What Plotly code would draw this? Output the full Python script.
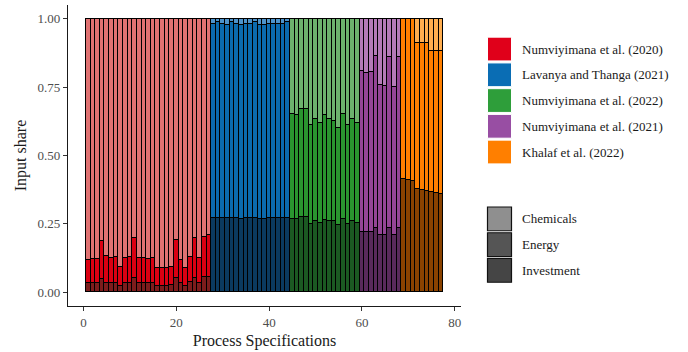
import plotly.graph_objects as go

# ---- data ----
studies = ["Numviyimana et al. (2020)", "Lavanya and Thanga (2021)",
           "Numviyimana et al. (2022)", "Numviyimana et al. (2021)",
           "Khalaf et al. (2022)"]
inputs = ["Chemicals", "Energy", "Investment"]

investment_2020 = [0.033, 0.033, 0.033, 0.048, 0.034, 0.034, 0.034, 0.024, 0.034, 0.034,
                   0.054, 0.034, 0.034, 0.033, 0.033, 0.024, 0.024, 0.024, 0.025, 0.052,
                   0.033, 0.024, 0.036, 0.054, 0.035, 0.056, 0.057]
energy_2020 = [0.085, 0.087, 0.089, 0.139, 0.099, 0.091, 0.096, 0.070, 0.090, 0.094,
               0.144, 0.093, 0.090, 0.087, 0.091, 0.064, 0.066, 0.066, 0.068, 0.138,
               0.084, 0.066, 0.093, 0.143, 0.092, 0.147, 0.153]
chemicals_2020 = [0.882, 0.880, 0.878, 0.813, 0.867, 0.875, 0.870, 0.906, 0.876, 0.872,
                  0.802, 0.873, 0.876, 0.880, 0.876, 0.912, 0.910, 0.910, 0.907, 0.810,
                  0.883, 0.910, 0.871, 0.803, 0.873, 0.797, 0.790]

investment_lav = [0.270, 0.271, 0.271, 0.270, 0.271, 0.270, 0.269, 0.270, 0.270, 0.271,
                  0.269, 0.269, 0.270, 0.270, 0.270, 0.270, 0.271]
energy_lav = [0.712, 0.718, 0.711, 0.706, 0.718, 0.712, 0.707, 0.712, 0.712, 0.718,
              0.707, 0.707, 0.712, 0.712, 0.712, 0.712, 0.718]
chemicals_lav = [0.018, 0.011, 0.018, 0.024, 0.011, 0.018, 0.024, 0.018, 0.018, 0.011,
                 0.024, 0.024, 0.018, 0.018, 0.018, 0.018, 0.011]

investment_2022 = [0.269, 0.268, 0.274, 0.275, 0.251, 0.260, 0.254, 0.266, 0.262, 0.260,
                   0.245, 0.269, 0.251, 0.260, 0.254]
energy_2022 = [0.384, 0.379, 0.396, 0.395, 0.361, 0.372, 0.364, 0.382, 0.371, 0.367,
               0.354, 0.384, 0.361, 0.372, 0.364]
chemicals_2022 = [0.347, 0.353, 0.330, 0.330, 0.388, 0.368, 0.382, 0.352, 0.367, 0.373,
                  0.401, 0.347, 0.388, 0.368, 0.382]

investment_2021 = [0.220, 0.220, 0.221, 0.236, 0.208, 0.208, 0.236, 0.208, 0.236]
energy_2021 = [0.587, 0.583, 0.585, 0.627, 0.549, 0.545, 0.625, 0.542, 0.624]
chemicals_2021 = [0.193, 0.197, 0.194, 0.137, 0.243, 0.247, 0.139, 0.250, 0.140]

investment_kh = [0.414, 0.410, 0.408, 0.378, 0.374, 0.371, 0.366, 0.362, 0.360]
energy_kh = [0.586, 0.590, 0.592, 0.534, 0.538, 0.541, 0.516, 0.520, 0.522]
chemicals_kh = [0.000, 0.000, 0.000, 0.088, 0.088, 0.088, 0.118, 0.118, 0.118]

# ---- styles ----
study_colors = ["#E0001A", "#0A6DB4", "#2E9E3A", "#984EA3", "#FF7F00"]
seg_colors = {
    "Chemicals": ["#E07272", "#4D93CB", "#6DB36D", "#B57AB8", "#FFAE50"],
    "Energy": ["#DA0012", "#0B6AAE", "#2A952F", "#944596", "#FF7F00"],
    "Investment": ["#7D1C1C", "#0B3A5F", "#1B5A22", "#5A2A5C", "#8A4200"],
}
key_colors = {"Chemicals": "#8F8F8F", "Energy": "#555555", "Investment": "#454545"}

groups = [
    (investment_2020, energy_2020, chemicals_2020),
    (investment_lav, energy_lav, chemicals_lav),
    (investment_2022, energy_2022, chemicals_2022),
    (investment_2021, energy_2021, chemicals_2021),
    (investment_kh, energy_kh, chemicals_kh),
]

xs, inv, en, ch, gi = [], [], [], [], []
n = 1
for g, (a, b, c) in enumerate(groups):
    for i in range(len(a)):
        xs.append(n)
        inv.append(a[i]); en.append(b[i]); ch.append(c[i]); gi.append(g)
        n += 1

FONT = "Liberation Serif, Times New Roman, serif"
fig = go.Figure()
for name, vals in [("Investment", inv), ("Energy", en), ("Chemicals", ch)]:
    fig.add_trace(go.Bar(
        x=xs, y=vals, name=name, showlegend=False,
        width=1.0,
        marker=dict(color=[seg_colors[name][g] for g in gi],
                    line=dict(color="#000000", width=1.3)),
    ))

W, H = 688, 352
L, R, T, B = 68, 461, 5, 309


def px(xp):
    return (xp - L) / (R - L)


def py(yp):
    return (B - yp) / (B - T)


shapes = []
annots = []
# study legend
for i, s in enumerate(studies):
    top = 37.5 + 26 * i
    shapes.append(dict(type="rect", xref="paper", yref="paper",
                       x0=px(487.5), x1=px(511.5), y0=py(top + 24), y1=py(top),
                       fillcolor=study_colors[i], line=dict(color="#FFFFFF", width=1)))
    annots.append(dict(xref="paper", yref="paper", x=px(520), y=py(top + 12),
                       text=s, showarrow=False, xanchor="left", yanchor="middle",
                       font=dict(family=FONT, size=13, color="#1a1a1a")))
# input legend
for i, s in enumerate(inputs):
    top = 209 + 26 * i
    shapes.append(dict(type="rect", xref="paper", yref="paper",
                       x0=px(487.5), x1=px(511.5), y0=py(top + 24), y1=py(top),
                       fillcolor=key_colors[s], line=dict(color="#111111", width=1.2)))
    annots.append(dict(xref="paper", yref="paper", x=px(520), y=py(top + 12),
                       text=s, showarrow=False, xanchor="left", yanchor="middle",
                       font=dict(family=FONT, size=13, color="#1a1a1a")))

fig.update_layout(
    width=W, height=H,
    margin=dict(l=L, r=W - R, t=T, b=H - B),
    barmode="stack", bargap=0,
    plot_bgcolor="white", paper_bgcolor="white",
    font=dict(family=FONT, size=13, color="#4d4d4d"),
    shapes=shapes, annotations=annots,
    showlegend=False,
)
fig.update_xaxes(range=[-3.35, 81.35], tickvals=[0, 20, 40, 60, 80],
                 showgrid=False, zeroline=False, showline=True,
                 linecolor="#1a1a1a", linewidth=1.2, ticks="outside",
                 ticklen=4, tickcolor="#333333",
                 tickfont=dict(family=FONT, size=13, color="#4d4d4d"),
                 title=dict(text="Process Specifications", standoff=6,
                            font=dict(family=FONT, size=16, color="#1a1a1a")))
fig.update_yaxes(range=[-0.05, 1.05], tickvals=[0, 0.25, 0.5, 0.75, 1.0],
                 tickformat=".2f",
                 showgrid=False, zeroline=False, showline=True,
                 linecolor="#1a1a1a", linewidth=1.2, ticks="outside",
                 ticklen=4, tickcolor="#333333",
                 tickfont=dict(family=FONT, size=13, color="#4d4d4d"),
                 title=dict(text="Input share", standoff=6,
                            font=dict(family=FONT, size=16, color="#1a1a1a")))

fig.write_html("out.html")
